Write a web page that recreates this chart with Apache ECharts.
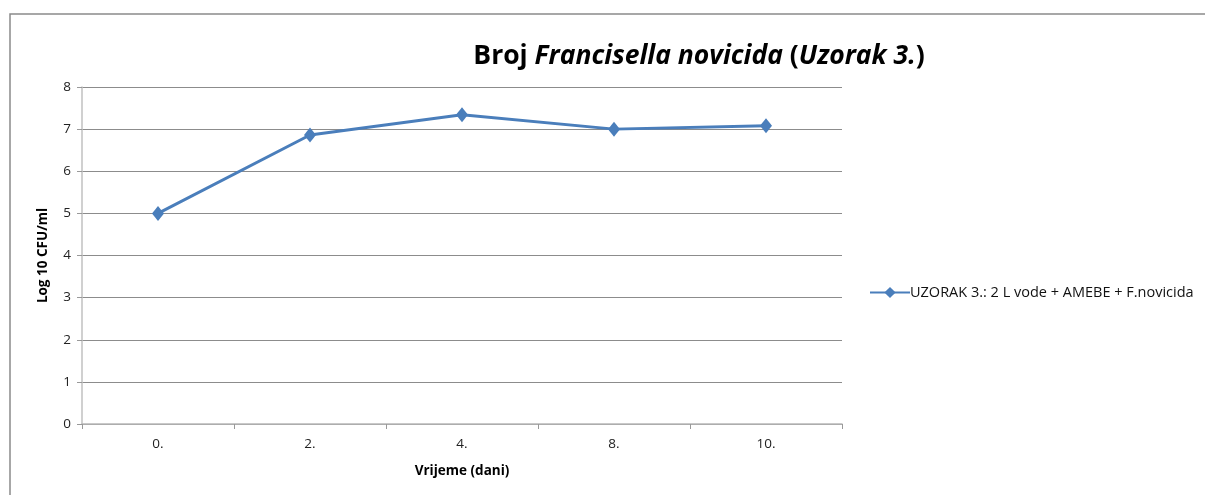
<!DOCTYPE html>
<html>
<head>
<meta charset="utf-8">
<script src="https://cdn.jsdelivr.net/npm/echarts@6/dist/echarts.min.js"></script>
<style>
  html, body { margin: 0; padding: 0; background: #fff; }
  #chart { width: 1205px; height: 495px; }
</style>
</head>
<body>
<div id="chart"></div>
<script>
// podaci
var days = ['0.', '2.', '4.', '8.', '10.'];
var cfu = [5.0, 6.86, 7.34, 7.0, 7.08];
var seriesName = 'UZORAK 3.: 2 L vode + AMEBE + F.novicida';

var myChart = echarts.init(document.getElementById('chart'));
var font = '"Open Sans", sans-serif';

var options = {
  animation: false,
  textStyle: { fontFamily: font },
  graphic: [{
    type: 'rect',
    shape: { x: 10, y: 14, width: 1400, height: 600 },
    style: { fill: 'none', stroke: '#8a8a8a', lineWidth: 1.5 },
    silent: true
  }],
  title: {
    text: '{b|Broj }{i|Francisella novicida}{b| (}{i|Uzorak 3.}{b|)}',
    left: 694,
    textAlign: 'center',
    top: 38,
    textStyle: {
      rich: {
        b: { fontSize: 26.5, fontWeight: 'bold', color: '#000', fontFamily: font },
        i: { fontSize: 26.5, fontWeight: 'bold', fontStyle: 'italic', color: '#000', fontFamily: font }
      }
    }
  },
  legend: {
    left: 864,
    top: 280,
    itemWidth: 40,
    itemHeight: 14,
    itemGap: 4,
    textStyle: { fontSize: 14.5, color: '#111', padding: [0, 0, 0, -5] },
    data: [seriesName]
  },
  grid: { left: 82, top: 87, width: 760, height: 337 },
  xAxis: {
    type: 'category',
    data: days,
    boundaryGap: true,
    name: 'Vrijeme (dani)',
    nameLocation: 'middle',
    nameGap: 40,
    nameTextStyle: { fontSize: 13.5, fontWeight: 'bold', color: '#000' },
    axisLine: { lineStyle: { color: '#b8b8b8', width: 1.5 } },
    axisTick: { show: true, length: 5, lineStyle: { color: '#999' } },
    axisLabel: { fontSize: 13.5, color: '#222', margin: 13 }
  },
  yAxis: {
    type: 'value',
    min: 0,
    max: 8,
    interval: 1,
    name: 'Log 10 CFU/ml',
    nameLocation: 'middle',
    nameGap: 32,
    nameTextStyle: { fontSize: 13.5, fontWeight: 'bold', color: '#000' },
    axisLine: { show: true, lineStyle: { color: '#c0c0c0', width: 1.5 } },
    axisTick: { show: true, length: 5, inside: false, lineStyle: { color: '#999' } },
    axisLabel: { fontSize: 13.5, color: '#222', margin: 11 },
    splitLine: { lineStyle: { color: '#8c8c8c', width: 1 } }
  },
  series: [{
    name: seriesName,
    type: 'line',
    data: cfu,
    symbol: 'diamond',
    symbolSize: [12, 15],
    color: '#4a7ebb',
    lineStyle: { width: 3, color: '#4a7ebb' },
    itemStyle: { color: '#4a7ebb' }
  }]
};

myChart.setOption(options);
</script>
</body>
</html>
